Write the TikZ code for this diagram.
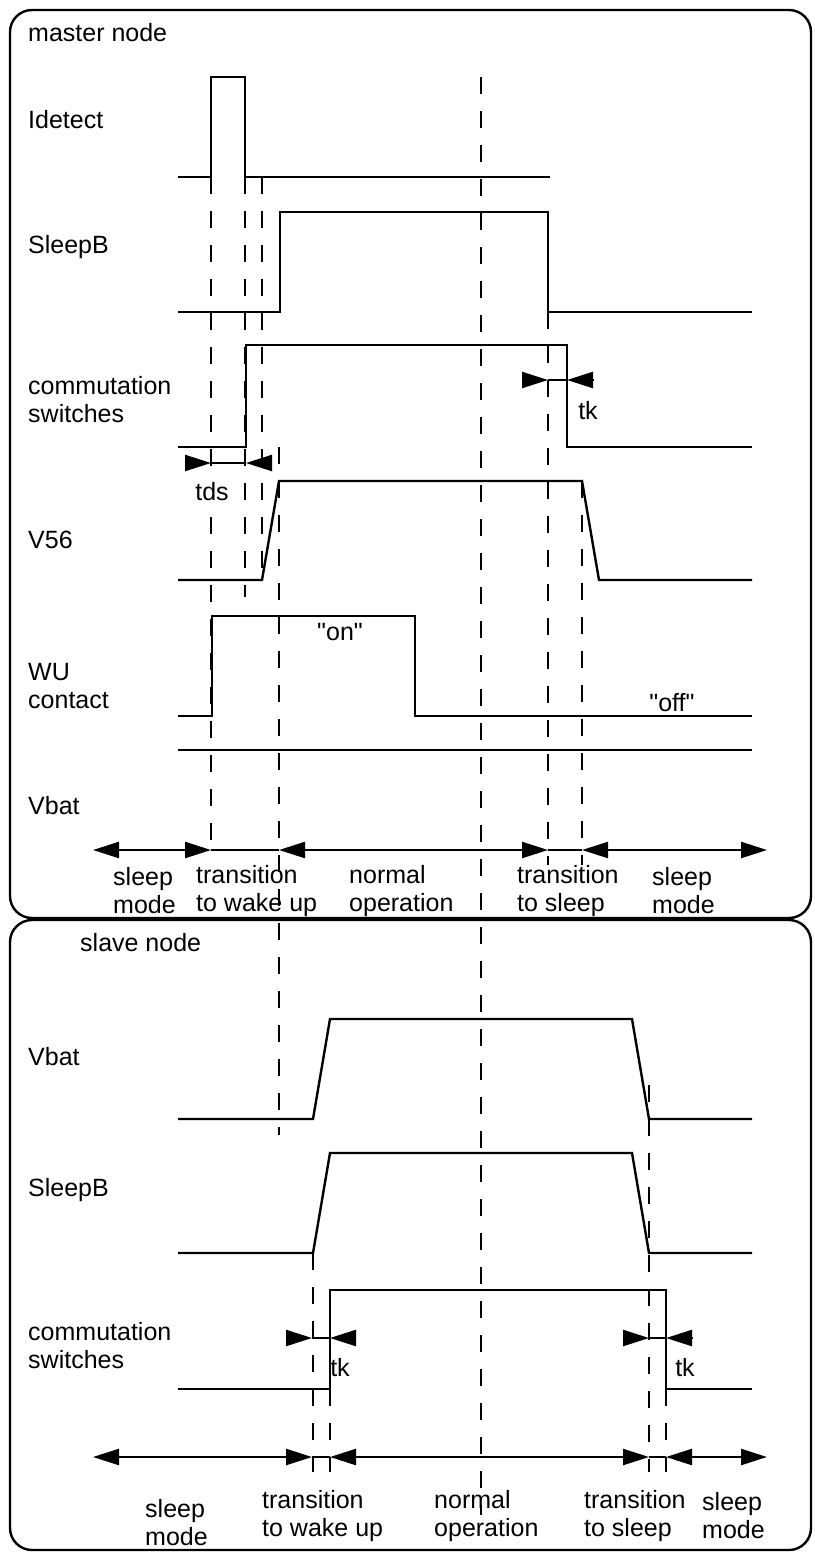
\documentclass[tikz,border=0pt]{standalone}
\usepackage{fontspec}
\setmainfont{Liberation Sans}
\newfontfamily\lsans{Liberation Sans}
\usetikzlibrary{arrows.meta}
\begin{document}
\begin{tikzpicture}[x=1pt,y=-1pt,
  >={Triangle[length=26pt,width=16pt]},
  sig/.style={line width=2.4pt, line join=miter},
  guide/.style={line width=2.4pt, dash pattern=on 17pt off 17pt},
  frame/.style={line width=2.4pt, rounded corners=22pt},
  dim/.style={line width=2.4pt},
  lbl/.style={anchor=west, inner sep=0pt, align=left, font=\lsans\fontsize{25}{28}\selectfont},
  ctr/.style={inner sep=0pt, font=\lsans\fontsize{25}{28}\selectfont}]
\useasboundingbox (0,0) rectangle (814,1555);

% frames
\draw[frame] (10,10) rectangle (811,918);
\draw[frame] (10,920) rectangle (811,1550);

% ---------- dashed guides
\draw[guide] (211,177) -- (211,850);
\draw[guide] (245,177) -- (245,597);
\draw[guide] (262,177) -- (262,580);
\draw[guide] (279,447) -- (279,1135);
\draw[guide] (481,77) -- (481,1515);
\draw[guide] (548,312) -- (548,865);
\draw[guide] (582,481) -- (582,865);
\draw[guide] (313,1253) -- (313,1472);
\draw[guide] (330,1389) -- (330,1472);
\draw[guide] (649,1085) -- (649,1472);
\draw[guide] (666,1389) -- (666,1472);

% ---------- master labels
\node[lbl] (mtitle) at (28,33) {master node};
\node[lbl] (lIdet) at (28,120) {Idetect};
\node[lbl] (lSleepM) at (28,247) {SleepB};
\node[lbl] (lCommM) at (28,400) {commutation\\switches};
\node[lbl] (lV56) at (28,540) {V56};
\node[lbl] (lWU) at (28,686) {WU\\contact};
\node[lbl] (lVbatM) at (28,806) {Vbat};
\node[ctr, fill=white, inner sep=1pt] (tds) at (212,492) {tds};
\node[ctr] (tkM) at (588,411) {tk};
\node[ctr] (on) at (340,632) {"on"};
\node[ctr] (off) at (672,703) {"off"};

\node[lbl] (m1) at (113,891) {sleep\\mode};
\node[lbl] (m2) at (196,891) {transition\\to wake up};
\node[lbl] (m3) at (349,891) {normal\\operation};
\node[lbl] (m4) at (517,891) {transition\\to sleep};
\node[lbl] (m5) at (652,891) {sleep\\mode};

% ---------- slave labels
\node[lbl] (stitle) at (80,943) {slave node};
\node[lbl] (lVbatS) at (28,1057) {Vbat};
\node[lbl] (lSleepS) at (28,1190) {SleepB};
\node[lbl] (lCommS) at (28,1346) {commutation\\switches};
\node[ctr] (tkS1) at (340,1368) {tk};
\node[ctr] (tkS2) at (685,1368) {tk};

\node[lbl] (s1) at (145,1523) {sleep\\mode};
\node[lbl] (s2) at (262,1516) {transition\\to wake up};
\node[lbl] (s3) at (434,1516) {normal\\operation};
\node[lbl] (s4) at (584,1516) {transition\\to sleep};
\node[lbl] (s5) at (702,1516) {sleep\\mode};

% ---------- master signals
\draw[sig] (178,177) -- (211,177) -- (211,77) -- (245,77) -- (245,177) -- (550,177);
\draw[sig] (178,312) -- (280,312) -- (280,212) -- (548,212) -- (548,312) -- (752,312);
\draw[sig] (178,447) -- (246,447) -- (246,345) -- (567,345) -- (567,447) -- (752,447);
\draw[sig] (178,580) -- (262,580) -- (279,481) -- (582,481) -- (599,580) -- (752,580);
\draw[sig] (178,716) -- (212,716) -- (212,616) -- (415,616) -- (415,716) -- (752,716);
\draw[sig] (178,750) -- (752,750);

% tds
\draw[dim,->] (186,463) -- (211,463);
\draw[dim] (211,463) -- (246,463);
\draw[dim,->] (272,463) -- (246,463);
% tk master
\draw[dim,->] (522,380) -- (548,380);
\draw[dim] (548,380) -- (567,380);
\draw[dim,->] (594,380) -- (567,380);

% master axis
\draw[dim,<->] (93,850) -- (211,850);
\draw[dim] (211,850) -- (279,850);
\draw[dim,<->] (279,850) -- (548,850);
\draw[dim] (548,850) -- (582,850);
\draw[dim,<->] (582,850) -- (767,850);

% ---------- slave signals
\draw[sig] (178,1119) -- (313,1119) -- (330,1019) -- (632,1019) -- (649,1119) -- (752,1119);
\draw[sig] (178,1253) -- (313,1253) -- (330,1153) -- (632,1153) -- (649,1253) -- (752,1253);
\draw[sig] (178,1389) -- (330,1389) -- (330,1290) -- (666,1290) -- (666,1389) -- (752,1389);

% tk slave
\draw[dim,->] (286,1338) -- (312,1338);
\draw[dim] (312,1338) -- (330,1338);
\draw[dim,->] (356,1338) -- (330,1338);
\draw[dim,->] (623,1338) -- (649,1338);
\draw[dim] (649,1338) -- (666,1338);
\draw[dim,->] (693,1338) -- (666,1338);

% slave axis
\draw[dim,<->] (93,1457) -- (312,1457);
\draw[dim] (312,1457) -- (330,1457);
\draw[dim,<->] (330,1457) -- (649,1457);
\draw[dim] (649,1457) -- (666,1457);
\draw[dim,<->] (666,1457) -- (767,1457);
\end{tikzpicture}
\end{document}
